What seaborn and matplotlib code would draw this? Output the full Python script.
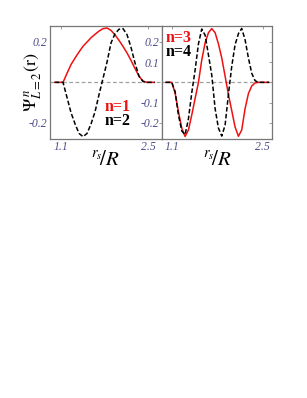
import matplotlib
matplotlib.use('Agg')
import matplotlib.pyplot as plt
import seaborn as sns
import pandas as pd

# values
x_left = [1.0, 1.135, 1.199, 1.263, 1.327, 1.391, 1.455, 1.519, 1.583, 1.647, 1.711, 1.775,
          1.839, 1.903, 1.967, 2.031, 2.095, 2.159, 2.223, 2.287, 2.351, 2.415, 2.479, 2.6]
psi_n1 = [0, 0, .045, .088, .120, .150, .178, .199, .220, .237, .253, .265,
          .268, .256, .234, .207, .177, .145, .108, .068, .030, .006, 0, 0]
psi_n2 = [0, 0, -.075, -.15, -.205, -.252, -.268, -.252, -.205, -.145, -.06, .02,
          .10, .195, .240, .262, .265, .235, .172, .095, .030, .004, 0, 0]

x_right = [1.0, 1.095, 1.147, 1.198, 1.250, 1.301, 1.353, 1.405, 1.456, 1.508, 1.559,
           1.611, 1.663, 1.714, 1.766, 1.817, 1.869, 1.921, 1.972, 2.024, 2.075,
           2.127, 2.178, 2.230, 2.282, 2.333, 2.385, 2.436, 2.6]
psi_n3 = [0, 0, -.054, -.144, -.227, -.267, -.235, -.16, -.08, 0, .11,
          .195, .245, .265, .245, .19, .12, .03, -.06, -.14, -.22,
          -.266, -.235, -.13, -.055, -.018, -.003, 0, 0]
psi_n4 = [0, 0, -.046, -.161, -.24, -.258, -.18, -.05, .06, .19, .263,
          .233, .135, .036, -.13, -.225, -.265, -.21, -.06, .08, .185,
          .24, .266, .21, .12, .045, .008, 0, 0]

left_yticks = [0.2, -0.2]
right_yticks = [0.2, 0.1, -0.1, -0.2]
xticks = [1.1, 2.5]

sns.set_style('white')
plt.rcParams['font.family'] = ['Liberation Serif', 'DejaVu Serif']
plt.rcParams['mathtext.fontset'] = 'stix'

TICK_COL = '#4d4d8c'
FRAME_COL = '#777777'

fig = plt.figure(figsize=(3.07, 3.98), dpi=100)
ax1 = fig.add_axes([0.162, 0.6515, 0.366, 0.2832])
ax2 = fig.add_axes([0.528, 0.6515, 0.358, 0.2832])

df_l = pd.DataFrame({'x': x_left, 'n1': psi_n1, 'n2': psi_n2})
df_r = pd.DataFrame({'x': x_right, 'n3': psi_n3, 'n4': psi_n4})

for ax, xl in [(ax1, (0.922, 2.72)), (ax2, (0.945, 2.647))]:
    ax.axhline(0, color='#a0a0a0', lw=0.9, ls=(0, (3, 2)), zorder=1)
    ax.set_xlim(*xl)
    ax.set_ylim(-0.278, 0.278)
    for s in ax.spines.values():
        s.set_color(FRAME_COL)
        s.set_linewidth(0.9)
    ax.tick_params(direction='in', length=2, width=0.5, color=FRAME_COL,
                   labelcolor=TICK_COL, labelsize=8.5, pad=2,
                   top=True, right=True)
    ax.set_xticks(xticks)
    ax.set_xticklabels(['1.1', '2.5'], fontstyle='italic')

sns.lineplot(data=df_l, x='x', y='n1', ax=ax1, color='#ee1111', lw=1.1, zorder=3)
sns.lineplot(data=df_l, x='x', y='n2', ax=ax1, color='black', lw=1.1,
             linestyle=(0, (3, 1.5)), zorder=4)
sns.lineplot(data=df_r, x='x', y='n3', ax=ax2, color='#ee1111', lw=1.1, zorder=3)
sns.lineplot(data=df_r, x='x', y='n4', ax=ax2, color='black', lw=1.1,
             linestyle=(0, (3, 1.5)), zorder=4)

ax1.set_yticks(left_yticks)
ax1.set_yticklabels(['0.2', '-0.2'], fontstyle='italic')
ax2.set_yticks(right_yticks)
ax2.set_yticklabels(['0.2', '0.1', '-0.1', '-0.2'], fontstyle='italic')
ax2.set_ylabel('')

ax1.set_ylabel(r'$\Psi^{\,n}_{L=2}(\mathrm{r})$', fontsize=13, color='black')
ax1.yaxis.set_label_coords(-0.05, 0.5)

for ax in (ax1, ax2):
    ax.set_xlabel(r'$^{r_s}\!/R$', fontsize=15, color='black', labelpad=-2)

ax1.text(0.49, 0.25, 'n=1', color='#ee1111', fontsize=11.5, fontweight='bold',
         transform=ax1.transAxes)
ax1.text(0.49, 0.12, 'n=2', color='black', fontsize=11.5, fontweight='bold',
         transform=ax1.transAxes)
ax2.text(0.03, 0.86, 'n=3', color='#ee1111', fontsize=11.5, fontweight='bold',
         transform=ax2.transAxes)
ax2.text(0.03, 0.73, 'n=4', color='black', fontsize=11.5, fontweight='bold',
         transform=ax2.transAxes)

plt.savefig('out.png', dpi=100)
